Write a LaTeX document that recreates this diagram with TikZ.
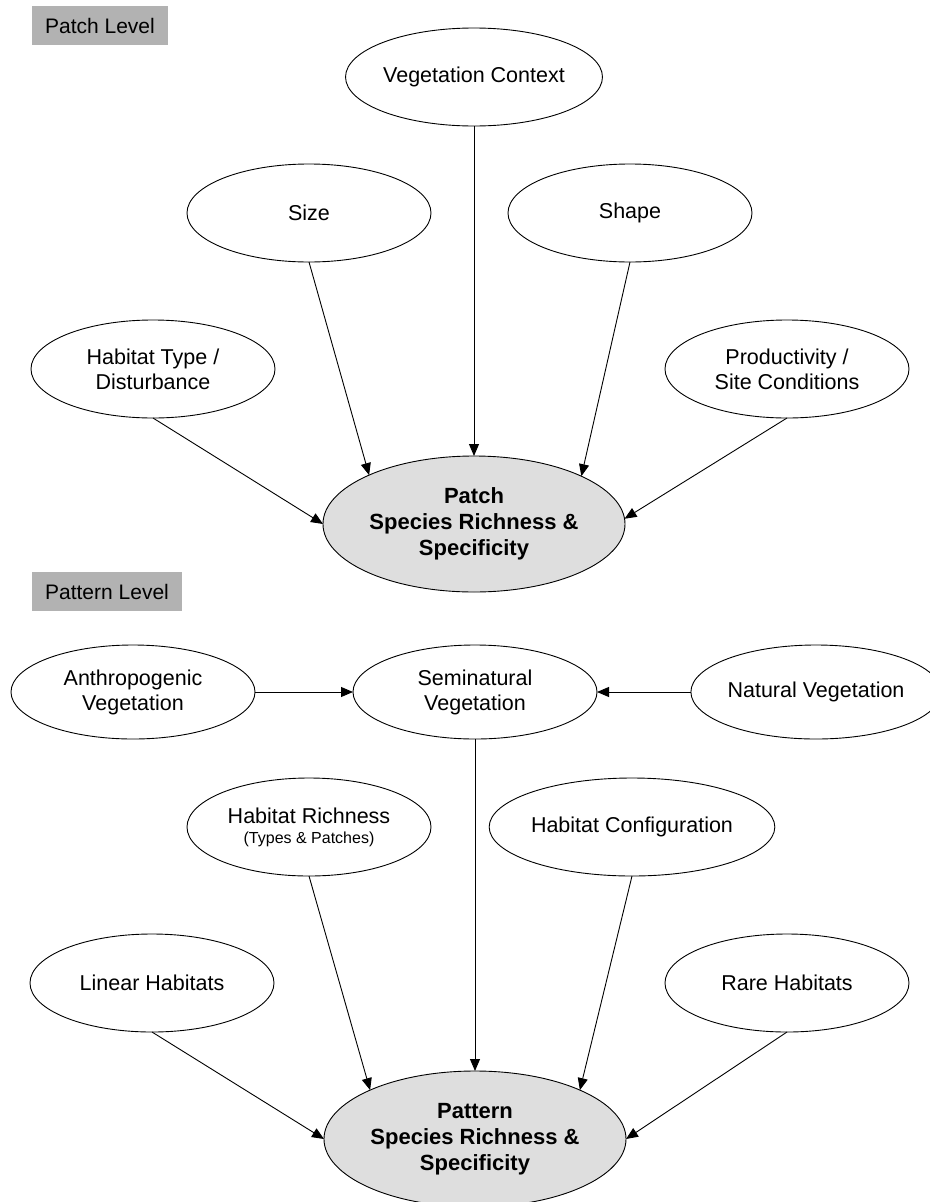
\documentclass[tikz,border=0pt]{standalone}
\usepackage{fontspec}
\setmainfont{Liberation Sans}
\usetikzlibrary{arrows.meta,shapes.geometric}
\begin{document}
\begin{tikzpicture}[x=1pt,y=-1pt,
  fact/.style={ellipse,draw,line width=0.9pt,minimum width=244pt,minimum height=98pt,
    inner sep=0pt,outer sep=0pt,align=center,font=\fontsize{21.5}{25}\selectfont},
  goal/.style={ellipse,draw,fill=black!13,line width=0.9pt,minimum width=302pt,minimum height=136pt,
    inner sep=0pt,outer sep=0pt,align=center,font=\fontsize{22}{26}\selectfont\bfseries},
  lvl/.style={fill=black!30,inner sep=0pt,minimum height=39pt,font=\fontsize{21}{25}\selectfont},
  arr/.style={-{Triangle[length=12pt,width=10pt]},line width=0.9pt}]
\useasboundingbox (0,0) rectangle (929,1202);
% ---------- Patch level ----------
\node[lvl,minimum width=136pt] (lp) at (100,25.5) {Patch Level};
\node[fact] (vc) at (474,77) {Vegetation Context};
\node[fact] (size) at (309,213) {Size};
\node[fact] (shape) at (630,213) {Shape};
\node[fact] (ht) at (153,369) {Habitat Type /\\Disturbance};
\node[fact] (prod) at (787,369) {Productivity /\\Site Conditions};
\node[goal] (patch) at (474,524) {Patch\\Species Richness \&\\Specificity};
\draw[arr] (vc.south) -- (patch.north);
\draw[arr] (size.south) -- (patch.155);
\draw[arr] (shape.south) -- (patch.24);
\draw[arr] (ht.south) -- (patch.180);
\draw[arr] (prod.south) -- (patch.2);
% ---------- Pattern level ----------
\node[lvl,minimum width=150pt] (lq) at (107,591.5) {Pattern Level};
\node[fact,minimum height=94pt] (anth) at (133,692) {Anthropogenic\\Vegetation};
\node[fact,minimum height=94pt] (semi) at (475,692) {Seminatural\\Vegetation};
\node[fact,minimum height=94pt] (nat) at (816,692) {Natural Vegetation};
\node[fact] (hr) at (309,827) {Habitat Richness\\[-5pt]{\fontsize{16}{18}\selectfont (Types \& Patches)}};
\node[fact] (hc) at (632,827) {Habitat Configuration};
\node[fact] (lin) at (152,983) {Linear Habitats};
\node[fact] (rare) at (787,983) {Rare Habitats};
\node[goal] (pattern) at (475,1139) {Pattern\\Species Richness \&\\Specificity};
\draw[arr] (anth.east) -- (semi.west);
\draw[arr] (nat.west) -- (semi.east);
\draw[arr] (semi.south) -- (pattern.north);
\draw[arr] (hr.south) -- (pattern.155);
\draw[arr] (hc.south) -- (pattern.25);
\draw[arr] (lin.south) -- (pattern.180);
\draw[arr] (rare.south) -- (pattern.0);
\end{tikzpicture}
\end{document}
